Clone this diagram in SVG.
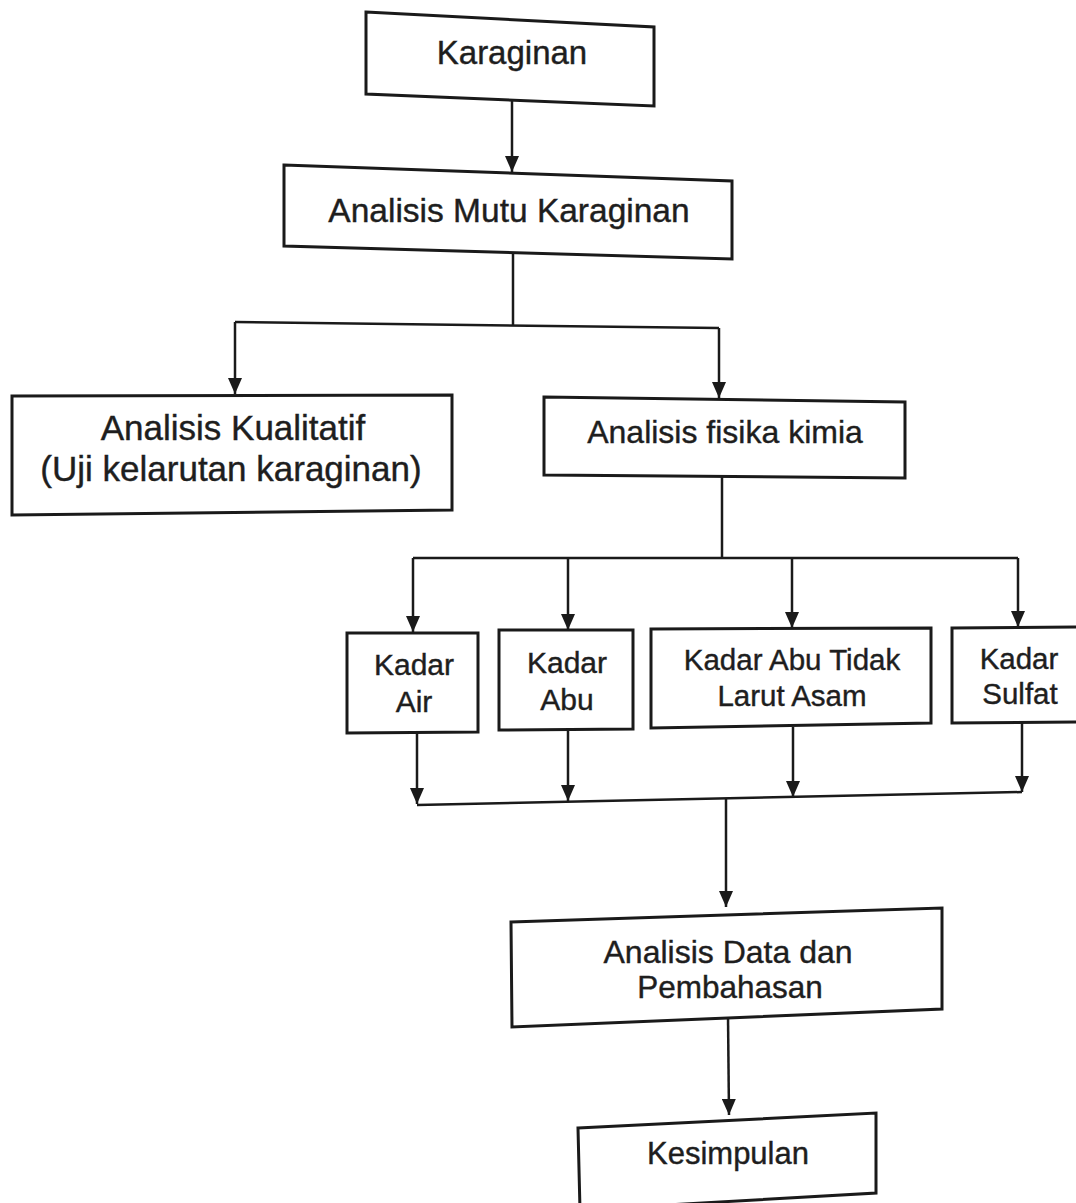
<svg xmlns="http://www.w3.org/2000/svg" width="1076" height="1203" viewBox="0 0 1076 1203">
<defs>
<style>
.box{fill:#fff;stroke:#1a1a1a;stroke-width:3;stroke-linejoin:miter}
.t{font-family:"Liberation Sans",Arial,sans-serif;fill:#1e1e1e;text-anchor:middle;stroke:#1e1e1e;stroke-width:0.4}
.c{fill:none;stroke:#1a1a1a;stroke-width:2.5}
</style>
<marker id="ah" viewBox="0 0 16 14" refX="16" refY="7" markerWidth="16" markerHeight="14" markerUnits="userSpaceOnUse" orient="auto">
<path d="M0,0 L16,7 L0,14 z" fill="#1a1a1a"/>
</marker>
</defs>
<rect width="1076" height="1203" fill="#fff"/>
<g id="connectors">
<path class="c" d="M512,100 L512,172" marker-end="url(#ah)"/>
<path class="c" d="M513,253 L513,325"/>
<path class="c" d="M235,322 L719,328"/>
<path class="c" d="M235,322 L235,394" marker-end="url(#ah)"/>
<path class="c" d="M719,328 L719,398" marker-end="url(#ah)"/>
<path class="c" d="M722,477 L722,558"/>
<path class="c" d="M413,558 L1018,558"/>
<path class="c" d="M413,558 L413,632" marker-end="url(#ah)"/>
<path class="c" d="M568,558 L568,630" marker-end="url(#ah)"/>
<path class="c" d="M792,558 L792,628" marker-end="url(#ah)"/>
<path class="c" d="M1018,558 L1018,627" marker-end="url(#ah)"/>
<path class="c" d="M417,733 L417,804" marker-end="url(#ah)"/>
<path class="c" d="M568,730 L568,801" marker-end="url(#ah)"/>
<path class="c" d="M793,727 L793,797" marker-end="url(#ah)"/>
<path class="c" d="M1022,723 L1022,792" marker-end="url(#ah)"/>
<path class="c" d="M417,805 L1022,792"/>
<path class="c" d="M726,799 L726,907" marker-end="url(#ah)"/>
<path class="c" d="M728,1016 L729,1115" marker-end="url(#ah)"/>
</g>
<g id="karaginan">
<polygon class="box" points="366,12 654,27 654,106 366,94"/>
<text class="t" x="512" y="64" font-size="33">Karaginan</text>
</g>
<g id="analisis-mutu">
<polygon class="box" points="284,165 732,181 732,259 284,246"/>
<text class="t" x="509" y="222" font-size="33.5">Analisis Mutu Karaginan</text>
</g>
<g id="analisis-kualitatif">
<polygon class="box" points="12,396 452,395 452,510 12,515"/>
<text class="t" x="233" y="440" font-size="35">Analisis Kualitatif</text>
<text class="t" x="231" y="481" font-size="35">(Uji kelarutan karaginan)</text>
</g>
<g id="analisis-fisika-kimia">
<polygon class="box" points="544,397 905,402 905,478 544,475"/>
<text class="t" x="725" y="443" font-size="32">Analisis fisika kimia</text>
</g>
<g id="kadar-air">
<polygon class="box" points="347,633 478,633 478,732 347,733"/>
<text class="t" x="414" y="675" font-size="30">Kadar</text>
<text class="t" x="414" y="712" font-size="30">Air</text>
</g>
<g id="kadar-abu">
<polygon class="box" points="499,630 633,630 633,729 499,730"/>
<text class="t" x="567" y="673" font-size="30">Kadar</text>
<text class="t" x="567" y="710" font-size="30">Abu</text>
</g>
<g id="kadar-abu-tidak-larut-asam">
<polygon class="box" points="651,629 931,628 931,723 651,728"/>
<text class="t" x="792" y="670" font-size="29.5">Kadar Abu Tidak</text>
<text class="t" x="792" y="706" font-size="29.5">Larut Asam</text>
</g>
<g id="kadar-sulfat">
<polygon class="box" points="952,628 1082,627 1082,722 952,723"/>
<text class="t" x="1019" y="669" font-size="29.5">Kadar</text>
<text class="t" x="1020" y="704" font-size="29.5">Sulfat</text>
</g>
<g id="analisis-data">
<polygon class="box" points="511,922 942,908 942,1009 512,1027"/>
<text class="t" x="728" y="963" font-size="32">Analisis Data dan</text>
<text class="t" x="730" y="998" font-size="31.5">Pembahasan</text>
</g>
<g id="kesimpulan">
<polygon class="box" points="578,1128 876,1113 876,1193 580,1210"/>
<text class="t" x="728" y="1164" font-size="31">Kesimpulan</text>
</g>
</svg>
